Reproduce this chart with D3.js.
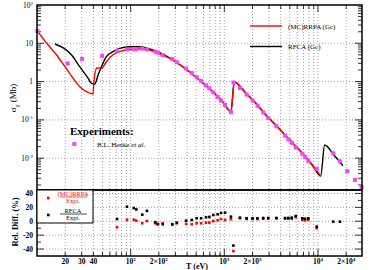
<!DOCTYPE html>
<meta charset="utf-8">
<head>
<style>
    body { margin: 0; background: #fff; }
    svg text { font-family: "Liberation Serif", "DejaVu Serif", serif; }
    .grid line { stroke: #888; stroke-width: 0.8px; stroke-dasharray: 1,2; }
    .frame { fill: none; stroke: #000; stroke-width: 1.5px; }
    .tick-mark { stroke: #000; stroke-width: 0.8px; }
</style>
</head>
<body>
<svg id="chart" width="374" height="270"></svg>
<script src="https://d3js.org/d3.v7.min.js"></script>
<script>
    // experiment (B.L. Henke et al.)
    var expT = [10.1, 21.2, 30.3, 49.5, 71.5, 91.4, 108, 115, 133, 149, 183, 195, 220, 278, 311, 391, 449, 507, 565, 638,
        692, 763, 848, 922, 1017, 1177, 1250, 1469, 1727, 2000, 2260, 2600, 2940, 3600, 4450, 4830, 5250, 5790, 6810, 7280,
        7890, 9690, 14560, 17150, 20500, 24800, 29200];
    var expSigma = [21, 3.0, 3.9, 4.7, 6.4, 6.9, 7.05, 7.05, 7.3, 6.9, 6.06, 5.7, 4.96, 3.93, 3.2, 2.19, 1.68, 1.30, 1.04, 0.80,
        0.67, 0.52, 0.40, 0.32, 0.246, 0.16, 0.95, 0.68, 0.46, 0.32, 0.233, 0.157, 0.113, 0.068, 0.039, 0.031, 0.0253, 0.0191, 0.0129, 0.0107,
        0.0085, 0.0053, 0.0134, 0.0083, 0.0046, 0.0027, 0.00174];

    // (MC)RRPA (Gc)
    var rrpaT = [10.07, 12.7, 16.2, 19.9, 24.3, 28.6, 33.8, 39.7, 40.4, 43.5, 49.1, 55, 64.4, 76.4, 97.5, 125, 159, 204, 282, 391,
        542, 751, 960, 1178, 1276, 1702, 2174, 2778, 3690, 4914, 6808, 8690, 10690];
    var rrpaSigma = [20.9, 10, 4.95, 2.45, 1.22, 0.736, 0.545, 0.474, 0.918, 2.27, 2.27, 3.3, 4.95, 6.04, 6.97, 7.1, 6.68, 5.26, 3.66, 2.10,
        1.10, 0.545, 0.299, 0.164, 0.98, 0.495, 0.271, 0.134, 0.0664, 0.0311, 0.01342, 0.00664, 0.00343];

    // RFCA (Gc)
    var rfcaT = [15.5, 19.1, 23.4, 28.6, 35.2, 38.2, 41.4, 44.9, 48.8, 55, 64.8, 76.4, 97.5, 125, 152, 194, 282, 391, 542, 751,
        960, 1178, 1276, 1702, 2174, 2778, 3690, 4914, 6808, 8690, 10690, 11780, 14790, 18450];
    var rfcaSigma = [9.6, 7.6, 4.95, 2.45, 1.22, 0.90, 0.865, 1.49, 2.45, 4.47, 6.04, 7.4, 8.15, 8.15, 7.4, 6.04, 3.66, 2.10, 1.10, 0.545,
        0.299, 0.164, 0.98, 0.495, 0.271, 0.134, 0.0664, 0.0311, 0.01342, 0.00664, 0.00343, 0.0221, 0.0121, 0.00637];

    // relative difference (%) for the experiments from T = 71.5 eV up
    var diffT = expT.slice(4, 44);
    var diffRRPA = [-8.6, 2.3, 2.3, 0.9, -2.9, 0.4, -2.9, -3.9, -2.9, -4.9, -2.9, -3.9, -4.3, -2.9, -2.9, -2, -2, 0.4, 1.4, 3.3,
        1.9, 3, -43, 4.3, 3.3, 3.3, 3.3, 3.7, 3.7, 4.3, 3.7, 3.7, 3.7, 5.8, 2.3, 1.4, 2.3, -10, null, null];
    var diffRFCA = [3.3, 21, 19, 17, 9.5, 15, -1.4, -4.3, -4.3, -4.3, -2, 0.9, 1.9, 4.3, 4.3, 5.8, 6.2, 9, 10, 12,
        12.4, 6.6, -35, 5.2, 4.3, 4.3, 4.3, 4.7, 4.7, 4.7, 4.7, 4.7, 5.2, 7.6, 4.3, 3.7, 4.3, -7.8, -0.6, -0.6];

    var svg = d3.select("#chart"),
        pLeft = 37, pRight = 362, pTop = 5, pMid = 190, pBottom = 256;

    var x = d3.scaleLog().domain([10, Math.pow(10, 4.47)]).range([pLeft, pRight]);
    var y = d3.scaleLog().domain([Math.pow(10, -2.83), 100]).range([pMid, pTop]);
    var yd = d3.scaleLinear().domain([-50, 45]).range([pBottom, pMid]);

    // minor x positions: 20..90, 100..900, ...
    var xMinor = [];
    [10, 100, 1000, 10000].forEach(function (dec) {
        for (var k = 1; k <= 9; k++) {
            var v = dec * k;
            if (v > 10 && v < x.domain()[1]) xMinor.push(v);
        }
    });
    var yMinor = [];
    [0.001, 0.01, 0.1, 1, 10].forEach(function (dec) {
        for (var k = 1; k <= 9; k++) {
            var v = dec * k;
            if (v >= y.domain()[0] && v <= 100) yMinor.push(v);
        }
    });
    var yMajor = [0.01, 0.1, 1, 10, 100];
    var dMajor = [40, 20, 0, -20, -40];
    var dMinor = [30, 10, -10, -30];

    // grids
    var grid = svg.append("g").attr("class", "grid");
    grid.selectAll(".gx").data(xMinor).enter().append("line")
        .attr("x1", x).attr("x2", x).attr("y1", pTop).attr("y2", pBottom);
    grid.selectAll(".gy").data(yMajor.slice(0, 4)).enter().append("line")
        .attr("x1", pLeft).attr("x2", pRight).attr("y1", y).attr("y2", y);
    grid.selectAll(".gd").data(dMajor).enter().append("line")
        .attr("x1", pLeft).attr("x2", pRight).attr("y1", yd).attr("y2", yd);

    // tick marks (inward)
    var ticks = svg.append("g").attr("class", "tick-mark");
    yMinor.forEach(function (v) {
        var major = yMajor.indexOf(v) >= 0;
        var len = major ? 7 : 4;
        ticks.append("line").attr("x1", pLeft).attr("x2", pLeft + len).attr("y1", y(v)).attr("y2", y(v));
        ticks.append("line").attr("x1", pRight).attr("x2", pRight - len).attr("y1", y(v)).attr("y2", y(v));
    });
    dMajor.concat(dMinor).forEach(function (v) {
        var len = dMajor.indexOf(v) >= 0 ? 7 : 4;
        ticks.append("line").attr("x1", pLeft).attr("x2", pLeft + len).attr("y1", yd(v)).attr("y2", yd(v));
        ticks.append("line").attr("x1", pRight).attr("x2", pRight - len).attr("y1", yd(v)).attr("y2", yd(v));
    });
    xMinor.forEach(function (v) {
        var lg = Math.log10(v);
        var len = Math.abs(lg - Math.round(lg)) < 1e-9 ? 7 : 4;
        ticks.append("line").attr("x1", x(v)).attr("x2", x(v)).attr("y1", pBottom).attr("y2", pBottom - len);
        ticks.append("line").attr("x1", x(v)).attr("x2", x(v)).attr("y1", pTop).attr("y2", pTop + len);
    });

    // curves
    svg.append("clipPath").attr("id", "clipTop").append("rect")
        .attr("x", pLeft).attr("y", pTop).attr("width", pRight - pLeft).attr("height", pMid - pTop);

    var line = d3.line()
        .curve(d3.curveMonotoneX)
        .x(function (d) { return x(d[0]); })
        .y(function (d) { return y(d[1]); });

    svg.append("path")
        .datum(d3.zip(rfcaT, rfcaSigma))
        .attr("clip-path", "url(#clipTop)")
        .attr("d", line)
        .attr("fill", "none").attr("stroke", "#000").attr("stroke-width", 1.4);

    svg.append("path")
        .datum(d3.zip(rrpaT, rrpaSigma))
        .attr("clip-path", "url(#clipTop)")
        .attr("d", line)
        .attr("fill", "none").attr("stroke", "#ff0000").attr("stroke-width", 1.4);

    svg.selectAll(".exp")
        .data(d3.zip(expT, expSigma))
        .enter().append("rect")
        .attr("class", "exp")
        .attr("x", function (d) { return x(d[0]) - 2; })
        .attr("y", function (d) { return y(d[1]) - 2; })
        .attr("width", 4).attr("height", 4)
        .attr("fill", "#ff40ff");

    // bottom panel points
    svg.selectAll(".dRed")
        .data(d3.zip(diffT, diffRRPA).filter(function (d) { return d[1] !== null; }))
        .enter().append("rect")
        .attr("x", function (d) { return x(d[0]) - 1.3; })
        .attr("y", function (d) { return yd(d[1]) - 1.3; })
        .attr("width", 2.6).attr("height", 2.6)
        .attr("fill", "#ff0000");
    svg.selectAll(".dBlack")
        .data(d3.zip(diffT, diffRFCA))
        .enter().append("rect")
        .attr("x", function (d) { return x(d[0]) - 1.3; })
        .attr("y", function (d) { return yd(d[1]) - 1.3; })
        .attr("width", 2.6).attr("height", 2.6)
        .attr("fill", "#000");

    // frames
    svg.append("rect").attr("class", "frame")
        .attr("x", pLeft).attr("y", pTop).attr("width", pRight - pLeft).attr("height", pMid - pTop);
    svg.append("rect").attr("class", "frame")
        .attr("x", pLeft).attr("y", pMid).attr("width", pRight - pLeft).attr("height", pBottom - pMid);

    // y labels, top panel
    var yLab = [[100, "2"], [10, null], [1, null], [0.1, "-1"], [0.01, "-2"]];
    yLab.forEach(function (d) {
        var t = svg.append("text")
            .attr("x", 33).attr("y", y(d[0]) + 2.5)
            .attr("text-anchor", "end")
            .attr("font-size", 7.5);
        if (d[0] === 1) { t.text("1"); return; }
        t.append("tspan").text("10");
        if (d[1]) t.append("tspan").attr("dy", -3).attr("font-size", 5).text(d[1]);
    });

    // y labels, bottom panel
    svg.selectAll(".dlab").data(dMajor).enter().append("text")
        .attr("x", 33).attr("y", function (d) { return yd(d) + 2.5; })
        .attr("text-anchor", "end")
        .attr("font-size", 7.5)
        .attr("font-weight", "bold")
        .text(function (d) { return d; });

    // x labels
    var xLab = [[20, "20", null], [30, "30", null], [40, "40", null], [100, "10", "2"], [200, "2×10", "2"],
        [1000, "10", "3"], [2000, "2×10", "3"], [10000, "10", "4"], [20000, "2×10", "4"]];
    xLab.forEach(function (d) {
        var t = svg.append("text")
            .attr("x", x(d[0])).attr("y", 264)
            .attr("text-anchor", "middle")
            .attr("font-size", 7.5)
            .attr("font-weight", "bold");
        t.append("tspan").text(d[1]);
        if (d[2]) t.append("tspan").attr("dy", -3).attr("font-size", 5).text(d[2]);
    });

    // axis titles
    var yt = svg.append("text")
        .attr("transform", "translate(16," + 98 + ") rotate(-90)")
        .attr("text-anchor", "middle")
        .attr("font-size", 9);
    yt.append("tspan").text("σ");
    yt.append("tspan").attr("dy", 2.5).attr("font-size", 6.5).text("γ");
    yt.append("tspan").attr("dy", -2.5).text(" (Mb)");

    svg.append("text")
        .attr("transform", "translate(18," + 222 + ") rotate(-90)")
        .attr("text-anchor", "middle")
        .attr("font-size", 8.5)
        .attr("font-weight", "bold")
        .text("Rel. Diff. (%)");

    svg.append("text")
        .attr("x", 197).attr("y", 269)
        .attr("text-anchor", "middle")
        .attr("font-size", 8)
        .attr("font-weight", "bold")
        .text("T (eV)");

    // legend, top right
    var legend = [["(MC)RRPA (Gc)", "#ff0000", 26], ["RFCA (Gc)", "#000", 46.5]];
    legend.forEach(function (d) {
        svg.append("line").attr("x1", 250).attr("x2", 282).attr("y1", d[2]).attr("y2", d[2])
            .attr("stroke", d[1]).attr("stroke-width", 1.4);
        svg.append("text").attr("x", 288).attr("y", d[2] + 2.5).attr("font-size", 7).text(d[0]);
    });

    // experiments legend
    svg.append("text").attr("x", 70).attr("y", 135)
        .attr("font-size", 11).attr("font-weight", "bold").text("Experiments:");
    svg.append("rect").attr("x", 72.3).attr("y", 142).attr("width", 4).attr("height", 4).attr("fill", "#ff40ff");
    var ht = svg.append("text").attr("x", 97).attr("y", 146.5).attr("font-size", 7);
    ht.append("tspan").text("B.L. Henke ");
    ht.append("tspan").attr("font-style", "italic").text("et al.");

    // relative difference legend box
    svg.append("rect").attr("x", pLeft).attr("y", pMid).attr("width", 56).attr("height", 33)
        .attr("fill", "#fff").attr("stroke", "#000").attr("stroke-width", 1);
    var frac = [["(MC)RRPA", "#ff0000", 198], ["RFCA", "#000", 215]];
    frac.forEach(function (d) {
        svg.append("rect").attr("x", 47).attr("y", d[2] - 1.3).attr("width", 2.6).attr("height", 2.6).attr("fill", d[1]);
        svg.append("text").attr("x", 73).attr("y", d[2] - 2.5).attr("text-anchor", "middle")
            .attr("font-size", 6.5).attr("fill", d[1]).text(d[0]);
        svg.append("line").attr("x1", 60).attr("x2", 87).attr("y1", d[2] - 1).attr("y2", d[2] - 1)
            .attr("stroke", d[1]).attr("stroke-width", 0.7);
        svg.append("text").attr("x", 73).attr("y", d[2] + 5).attr("text-anchor", "middle")
            .attr("font-size", 6.5).attr("fill", d[1]).text("Expt.");
    });
</script>
</body>
